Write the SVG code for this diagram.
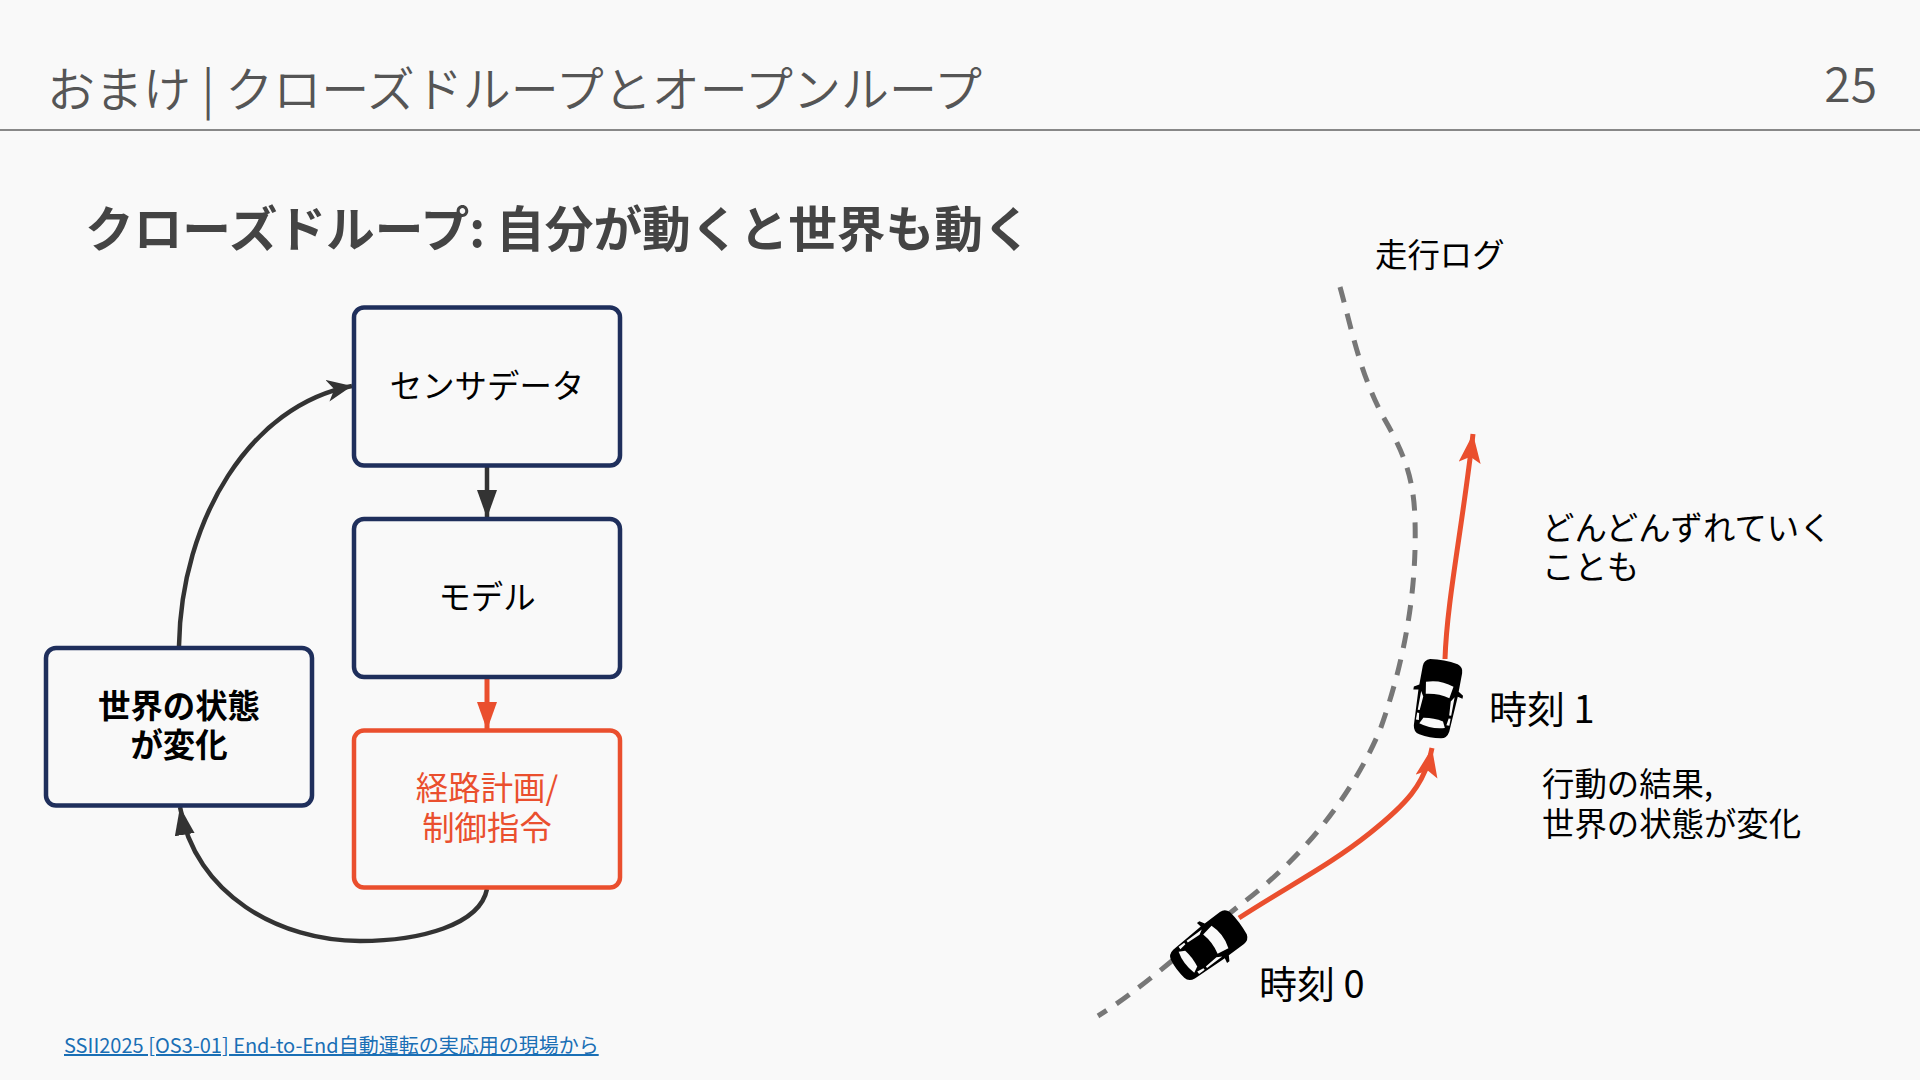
<svg xmlns="http://www.w3.org/2000/svg" width="1920" height="1080" viewBox="0 0 1920 1080">
<style>
text{font-family:"Noto Sans CJK JP","Noto Sans",sans-serif;fill:#000}
.box{fill:none;stroke:#1f2f5c;stroke-width:4.5}
.lbl{font-size:32.4px;text-anchor:middle}
.note{font-size:32.4px}
.c{fill:none;stroke:#333;stroke-width:4.5}
.r{fill:none;stroke:#ea4f2e;stroke-width:5}
</style>
<defs>
<marker id="ah" markerUnits="userSpaceOnUse" markerWidth="30" markerHeight="30" refX="25" refY="11" orient="auto"><path d="M0 0L25 11L0 22L7 11Z" fill="#333"/></marker>
<marker id="tri" markerUnits="userSpaceOnUse" markerWidth="30" markerHeight="24" refX="28" refY="10" orient="auto"><path d="M0 0L28 10L0 20Z" fill="#333"/></marker>
<marker id="trir" markerUnits="userSpaceOnUse" markerWidth="30" markerHeight="24" refX="28" refY="10" orient="auto"><path d="M0 0L28 10L0 20Z" fill="#ea4f2e"/></marker>
<marker id="ar" markerUnits="userSpaceOnUse" markerWidth="32" markerHeight="32" refX="29" refY="11" orient="auto"><path d="M0 0L29 11L0 22L6 11Z" fill="#ea4f2e"/></marker>
<g id="car">
<path d="M-14 -38Q0 -40 14 -38Q20 -36 20 -30L20 -11L25 -8L25 -5L20 -6L18 30Q17 37 11 38Q0 40 -11 38Q-17 37 -18 30L-20 -6L-25 -5L-25 -8L-20 -11L-20 -30Q-20 -36 -14 -38Z" fill="#000"/>
<path d="M-14 -15Q0 -20 14 -15L12 -3Q0 -6 -12 -3Z" fill="#f9f9f9"/>
<path d="M-13 27Q0 31 13 27L10 21Q0 19 -10 21Z" fill="#f9f9f9"/>
<path d="M-17 -5L-14 0L-15 14L-17 14ZM-17 17L-15 17L-14 24L-17 24ZM17 -5L14 0L15 14L17 14ZM17 17L15 17L14 24L17 24Z" fill="#f9f9f9"/>
</g>
</defs>
<rect width="1920" height="1080" fill="#f9f9f9"/>
<g id="header">
<text x="47" y="107" font-size="48" font-weight="350" style="fill:#555">おまけ | クローズドループとオープンループ</text>
<text x="1877" y="102" font-size="48" font-weight="350" text-anchor="end" style="fill:#555">25</text>
<line x1="0" y1="130" x2="1920" y2="130" stroke="#888" stroke-width="2"/>
</g>
<text id="subtitle" x="85" y="247" font-size="48.7" font-weight="700" style="fill:#444">クローズドループ: 自分が動くと世界も動く</text>
<g id="connectors">
<path class="c" d="M487 466V518" marker-end="url(#tri)"/>
<path class="r" d="M487 678V730" marker-end="url(#trir)"/>
<path class="c" d="M179 646C181 520 250 405 352 386" marker-end="url(#ah)"/>
<path class="c" d="M487 889C480 925 420 941 360 941C280 941 195 895 180 807" marker-end="url(#tri)"/>
<path fill="none" stroke="#777" stroke-width="5" stroke-dasharray="16 11.65" d="M1340 287C1352 330 1360 375 1385 420C1405 455 1414 480 1415 520C1417 590 1405 660 1380 730C1350 800 1300 860 1240 905C1190 945 1140 990 1098 1016"/>
<path class="r" d="M1239 918C1290 885 1330 865 1370 833C1405 805 1425 785 1432 748" marker-end="url(#ar)"/>
<path class="r" d="M1445 659C1447 600 1462 530 1473 434" marker-end="url(#ar)"/>
</g>
<g id="node-sensor"><rect class="box" x="354" y="307.5" width="266" height="158" rx="10"/><text class="lbl" x="487" y="398">センサデータ</text></g>
<g id="node-model"><rect class="box" x="354" y="519" width="266" height="158" rx="10"/><text class="lbl" x="487" y="609">モデル</text></g>
<g id="node-plan"><rect x="354" y="730.5" width="266" height="157" rx="10" fill="none" stroke="#ea4f2e" stroke-width="4.5"/><text class="lbl" x="487" y="800" style="fill:#ea4f2e">経路計画/</text><text class="lbl" x="487" y="840" style="fill:#ea4f2e">制御指令</text></g>
<g id="node-world"><rect class="box" x="46" y="648" width="266" height="157.5" rx="10"/><text class="lbl" x="179" y="718" font-weight="700">世界の状態</text><text class="lbl" x="179" y="757" font-weight="700">が変化</text></g>
<g id="car0"><use href="#car" transform="translate(1208 946) rotate(53)"/></g>
<g id="car1"><use href="#car" transform="translate(1437 699) rotate(10.5)"/></g>
<text id="log" class="note" x="1375" y="267">走行ログ</text>
<text class="note" x="1542" y="540">どんどんずれていく</text>
<text class="note" x="1542" y="579">ことも</text>
<text class="note" x="1542" y="796">行動の結果,</text>
<text class="note" x="1542" y="836">世界の状態が変化</text>
<text x="1489" y="723" font-size="38">時刻 1</text>
<text x="1259" y="998" font-size="38">時刻 0</text>
<text id="source" x="64" y="1053" font-size="20" text-decoration="underline" style="fill:#1a6fb5">SSII2025 [OS3-01] End-to-End自動運転の実応用の現場から</text>
</svg>
